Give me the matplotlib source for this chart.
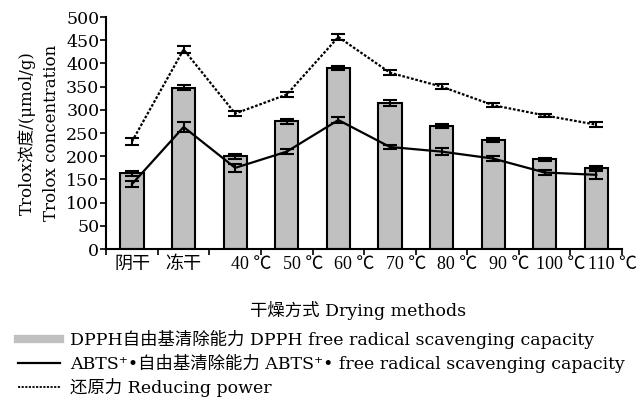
import matplotlib
matplotlib.use("Agg")
import matplotlib.pyplot as plt
import matplotlib.transforms as mtransforms
import numpy as np
from matplotlib.lines import Line2D

plt.rcParams['font.family'] = ['DejaVu Serif', 'Noto Sans CJK SC', 'DejaVu Sans']

categories = ["阴干", "冻干", "40 ℃", "50 ℃", "60 ℃", "70 ℃", "80 ℃", "90 ℃", "100 ℃", "110 ℃"]
dpph = [163, 348, 200, 275, 390, 315, 265, 235, 193, 175]
dpph_err = [6, 6, 5, 5, 5, 6, 5, 5, 4, 5]
abts = [140, 263, 175, 210, 278, 220, 210, 195, 165, 160]
abts_err = [6, 10, 8, 6, 7, 5, 7, 5, 6, 8]
reducing = [232, 430, 292, 333, 457, 380, 350, 310, 288, 268]
reducing_err = [7, 7, 5, 6, 6, 5, 5, 4, 4, 5]

fig = plt.figure(figsize=(6.4, 4.05), dpi=100)
ax = fig.add_axes([0.166, 0.385, 0.806, 0.573])
x = np.arange(len(categories))

dots = (0, (1.2, 0.8))
ax.bar(x, dpph, width=0.45, color='#c0c0c0', edgecolor='black', linewidth=1.5, zorder=2)
ax.errorbar(x, dpph, yerr=dpph_err, fmt='none', ecolor='black', elinewidth=1.5, capsize=5, capthick=1.5, zorder=3)
ax.errorbar(x, abts, yerr=abts_err, fmt='none', ecolor='black', elinewidth=1.5, capsize=5, capthick=1.5, zorder=4)
ax.plot(x, abts, color='black', lw=1.6, zorder=4)
ax.errorbar(x, reducing, yerr=reducing_err, fmt='none', ecolor='black', elinewidth=1.5, capsize=5, capthick=1.5, zorder=4)
ax.plot(x, reducing, color='black', lw=1.6, ls=dots, zorder=4)

ax.set_xlim(-0.5, len(categories) - 0.5)
ax.set_ylim(0, 500)
ax.set_yticks(np.arange(0, 501, 50))
ax.set_xticks(x)
ax.set_xticklabels(categories, fontsize=13, family=['Liberation Serif', 'Noto Sans CJK SC', 'DejaVu Sans'])
ax.tick_params(axis='x', which='major', length=0, pad=5)
ax.set_xticks(np.arange(-0.5, len(categories), 1.0), minor=True)
ax.tick_params(axis='x', which='minor', length=4, width=1.2, direction='out')
ax.tick_params(axis='y', labelsize=12.5, length=4, width=1.2, direction='out', pad=1)
for s in ['top', 'right']:
    ax.spines[s].set_visible(False)
for s in ['left', 'bottom']:
    ax.spines[s].set_linewidth(1.5)

# temperature labels sit slightly right of the bar centre, as in the reference
shift = mtransforms.ScaledTranslation(16 / 100, 0, fig.dpi_scale_trans)
for lab in ax.get_xticklabels():
    if '℃' in lab.get_text():
        lab.set_transform(lab.get_transform() + shift)

ax.set_ylabel("Trolox浓度/(μmol/g)\nTrolox concentration", fontsize=12, linespacing=1.6, labelpad=4)
fig.text(0.56, 1 - 310 / 405, "干燥方式 Drying methods", ha='center', va='center', fontsize=12.5)

handles = [
    Line2D([0], [0], color='#c0c0c0', lw=6),
    Line2D([0], [0], color='black', lw=1.6),
    Line2D([0], [0], color='black', lw=1.3, ls=dots),
]
labels = [
    "DPPH自由基清除能力 DPPH free radical scavenging capacity",
    "ABTS⁺•自由基清除能力 ABTS⁺• free radical scavenging capacity",
    "还原力 Reducing power",
]
fig.legend(handles, labels, loc='upper left', bbox_to_anchor=(0.028, 0.185), frameon=False,
           fontsize=12.5, handlelength=2.4, handletextpad=0.6, labelspacing=0.29, borderaxespad=0, borderpad=0)

fig.savefig("out.png", dpi=100)
